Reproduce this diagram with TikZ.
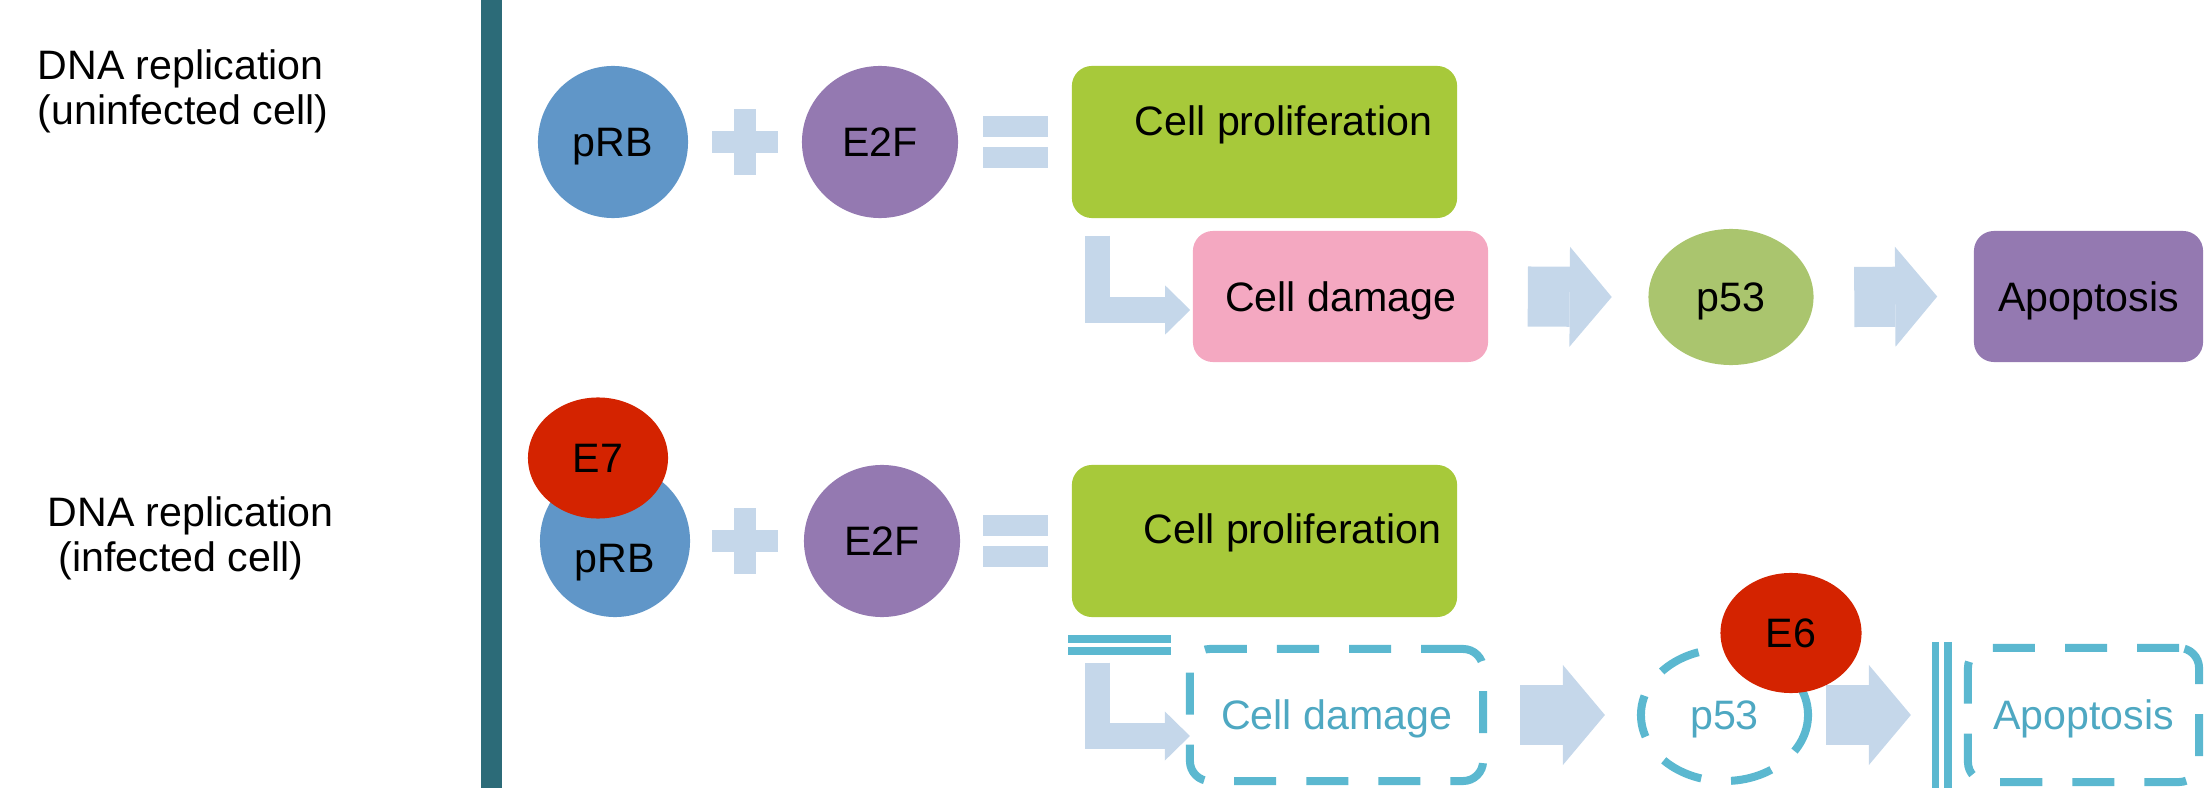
\documentclass[tikz,border=0pt]{standalone}
\usepackage{fontspec}
\setmainfont{Liberation Sans}
\usetikzlibrary{shapes.geometric,arrows.meta}

\definecolor{barteal}{RGB}{44,107,120}
\definecolor{prbblue}{RGB}{96,150,200}
\definecolor{e2fpurple}{RGB}{148,121,177}
\definecolor{signblue}{RGB}{197,215,234}
\definecolor{prolifgreen}{RGB}{167,201,58}
\definecolor{damagepink}{RGB}{244,168,193}
\definecolor{psgreen}{RGB}{170,197,110}
\definecolor{viralred}{RGB}{212,35,0}
\definecolor{blockblue}{RGB}{91,184,208}
\definecolor{blocktext}{RGB}{78,168,194}

\tikzset{
	txt/.style={font=\fontsize{11.7}{12.8}\selectfont},
	sidelabel/.style={txt, anchor=base west, inner sep=0pt},
	blob/.style={ellipse, txt, text depth=0pt, inner sep=0pt, minimum width=1.5cm, minimum height=1.52cm},
	box/.style={rectangle, rounded corners=0.2cm, txt, text depth=0pt, inner sep=0pt},
	viral/.style={ellipse, fill=viralred, txt, text depth=0pt, inner sep=0pt, minimum width=1.4cm, minimum height=1.21cm},
	blocked/.style={draw=blockblue, line width=0.08cm, dash pattern=on 0.42cm off 0.3cm, text=blocktext},
	flow/.style={draw=signblue, line width=0.6cm, -{Triangle[length=0.42cm, width=1cm, line width=0pt, fill=signblue]}},
	bent/.style={draw=signblue, line width=0.25cm, -{Triangle[length=0.25cm, width=0.49cm, line width=0pt, fill=signblue]}},
	stopline/.style={draw=blockblue, line width=0.075cm},
	sign/.style={fill=signblue},
}

\begin{document}
\begin{tikzpicture}[x=0.01cm, y=-0.01cm]
	\useasboundingbox (0,0) rectangle (2208,788);
	
	\fill[barteal] (481,0) rectangle (502,788);
	
	\node[sidelabel] (upperlbl) at (37,80) {DNA replication};
	\node[sidelabel] (upperlblb) at (37,125) {(uninfected cell)};
	\node[sidelabel] (lowerlbl) at (47,526) {DNA replication};
	\node[sidelabel] (lowerlblb) at (58,571) {(infected cell)};
	
	\foreach \y in {142,541} {
		\fill[sign] (712,\y-11) rectangle (778,\y+11);
		\fill[sign] (734,\y-33) rectangle (756,\y+33);
		\fill[sign] (983,\y-26) rectangle (1048,\y-5);
		\fill[sign] (983,\y+5) rectangle (1048,\y+26);
	}
	
	\node[blob, fill=prbblue] (prbA) at (613,142) {pRB};
	\node[blob, fill=e2fpurple, minimum width=1.56cm] (e2fA) at (880,142) {E2F};
	\node[box, fill=prolifgreen, minimum width=3.85cm, minimum height=1.52cm] (prolifA) at (1264.5,142) {};
	\node[txt] (prolifAtxt) at ([shift={(19,-17)}]prolifA.center) {Cell proliferation};
	\node[box, fill=damagepink, minimum width=2.95cm, minimum height=1.31cm] (dmgA) at (1340.5,296.5) {Cell damage};
	\node[blob, fill=psgreen, minimum width=1.65cm, minimum height=1.36cm] (p53A) at (1731,297) {p53};
	\node[box, fill=e2fpurple, minimum width=2.29cm, minimum height=1.31cm] (apoA) at (2088.5,296.5) {Apoptosis};
	
	\draw[bent] ([shift={(26,17)}]prolifA.south west) |- ([shift={(-2,13.5)}]dmgA.west);
	\draw[flow] ([xshift=0.39cm]dmgA.east) -- ([xshift=-0.36cm]p53A.west);
	\draw[flow] ([xshift=0.4cm]p53A.east) -- ([xshift=-0.36cm]apoA.west);
	
	\node[blob, fill=prbblue, label={[txt, yshift=-0.22cm]center:pRB}] (prbB) at (615,541) {};
	\node[viral] (e7) at (598,458) {E7};
	\node[blob, fill=e2fpurple, minimum width=1.56cm] (e2fB) at (882,541) {E2F};
	\node[box, fill=prolifgreen, minimum width=3.85cm, minimum height=1.52cm] (prolifB) at (1264.5,541) {};
	\node[txt] (prolifBtxt) at ([shift={(28,-8)}]prolifB.center) {Cell proliferation};
	\node[box, blocked, minimum width=2.93cm, minimum height=1.32cm] (dmgB) at (1336.5,715) {Cell damage};
	\node[blob, blocked, minimum width=1.67cm, minimum height=1.32cm] (p53B) at (1724.5,715) {p53};
	\node[box, blocked, minimum width=2.31cm, minimum height=1.34cm] (apoB) at (2083.5,715) {Apoptosis};
	
	\draw[stopline] ([shift={(-3,21)}]prolifB.south west) -- ++(103,0);
	\draw[stopline] ([shift={(-3,33)}]prolifB.south west) -- ++(103,0);
	\draw[bent] ([shift={(26,45)}]prolifB.south west) |- ([shift={(4,21)}]dmgB.west);
	\draw[flow] ([xshift=0.33cm]dmgB.east) -- ([xshift=-0.32cm]p53B.west);
	\draw[flow] ([xshift=0.14cm]p53B.east) -- ([xshift=-0.53cm]apoB.west);
	\draw[stopline] ([shift={(-28.5,-2)}]apoB.north west) -- ++(0,150);
	\draw[stopline] ([shift={(-16,-2)}]apoB.north west) -- ++(0,150);
	
	\node[viral, minimum width=1.41cm, minimum height=1.2cm] (e6) at (1791,633) {E6};
\end{tikzpicture}
\end{document}
